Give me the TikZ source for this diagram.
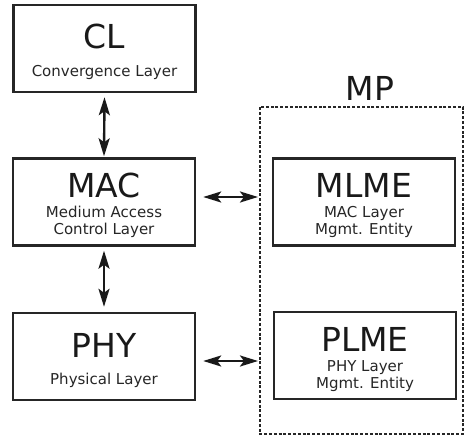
\documentclass[tikz,border=0pt]{standalone}
\usepackage{fontspec}
\setmainfont{DejaVu Sans}
\usetikzlibrary{arrows.meta,calc}
\begin{document}
\begin{tikzpicture}[x=1pt,y=-1pt,
  layerbox/.style={draw=black!85,line width=2.4pt,minimum width=182pt,minimum height=87pt,inner sep=0pt},
  big/.style={font=\fontsize{33}{35}\selectfont,text=black!90,inner sep=0pt},
  small/.style={font=\fontsize{15}{17.5}\selectfont,text=black!85,inner sep=0pt,align=center},
  conn/.style={line width=2.4pt,black!90,{Stealth[length=18pt,width=11pt,inset=4pt]}-{Stealth[length=18pt,width=11pt,inset=4pt]}},
  mpbox/.style={draw=black!85,line width=2pt,dash pattern=on 3pt off 1.8pt,inner sep=0pt}
]
\useasboundingbox (0,0) rectangle (466,436);
\node[layerbox] (cl) at (104.5,48.5) {};
\node[layerbox] (mac) at (104,202) {};
\node[layerbox] (phy) at (104,356.5) {};
\node[layerbox] (mlme) at (364,202) {};
\node[layerbox] (plme) at (365,355.5) {};
\draw[mpbox] (260,107) rectangle (463,434);
\coordinate (mpw1) at (258,197);
\coordinate (mpw2) at (258,361);
\node[big] (mp) at (370,88) {MP};

\node[big] (clt) at (104.5,36) {CL};
\node[small] (cls) at (104.5,72) {Convergence Layer};
\node[big] (mact) at (104,185) {MAC};
\node[small] (macs) at (104,222) {Medium Access\\Control Layer};
\node[big] (phyt) at (104,345) {PHY};
\node[small] (phys) at (104,380) {Physical Layer};
\node[big] (mlmet) at (364,185) {MLME};
\node[small] (mlmes) at (364,222) {MAC Layer\\Mgmt. Entity};
\node[big] (plmet) at (365,339) {PLME};
\node[small] (plmes) at (365,376) {PHY Layer\\Mgmt. Entity};

\draw[conn] ($(cl.south)+(0,4)$) -- ($(mac.north)+(0,-1)$);
\draw[conn] ($(mac.south)+(0,4)$) -- ($(phy.north)+(0,-5)$);
\draw[conn] ($(mac.east)+(7,-5)$) -- (mpw1);
\draw[conn] ($(phy.east)+(7,4.5)$) -- (mpw2);
\end{tikzpicture}
\end{document}
